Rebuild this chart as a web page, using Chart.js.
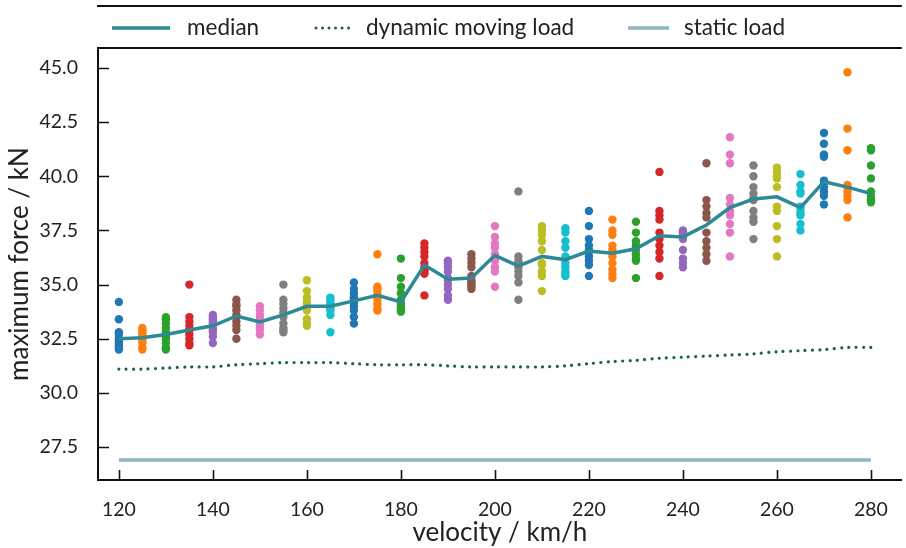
<!DOCTYPE html>
<html>
<head>
<meta charset="utf-8">
<script src="https://cdn.jsdelivr.net/npm/chart.js@4.4.1/dist/chart.umd.min.js"></script>
<style>
  html, body { margin: 0; padding: 0; background: #fff; }
  #wrap { width: 906px; height: 548px; }
</style>
</head>
<body>
<div id="wrap"><canvas id="chart" width="906" height="548"></canvas></div>
<script>
// velocities (km/h) where the runs were made
const velocity = [120, 125, 130, 135, 140, 145, 150, 155, 160, 165, 170, 175, 180, 185, 190, 195, 200,
                  205, 210, 215, 220, 225, 230, 235, 240, 245, 250, 255, 260, 265, 270, 275, 280];

// maximum force of each run (kN), one list per velocity
const samples = [
  [34.2, 33.4, 32.8, 32.7, 32.5, 32.4, 32.3, 32.2, 32.1, 32.0],
  [33.0, 32.9, 32.8, 32.7, 32.6, 32.5, 32.4, 32.3, 32.1, 32.0],
  [33.5, 33.4, 33.2, 33.0, 32.8, 32.6, 32.5, 32.3, 32.1, 32.0],
  [35.0, 33.5, 33.3, 33.1, 32.9, 32.9, 32.7, 32.5, 32.3, 32.2],
  [33.6, 33.5, 33.4, 33.3, 33.2, 33.0, 32.9, 32.8, 32.6, 32.3],
  [34.3, 34.1, 34.0, 33.8, 33.6, 33.5, 33.3, 33.1, 32.9, 32.5],
  [34.0, 33.8, 33.6, 33.5, 33.3, 33.25, 33.1, 33.0, 32.9, 32.7],
  [35.0, 34.3, 34.1, 33.9, 33.7, 33.5, 33.2, 33.0, 32.9, 32.8],
  [35.2, 34.7, 34.4, 34.2, 34.1, 33.9, 33.8, 33.4, 33.2, 33.1],
  [34.4, 34.3, 34.2, 34.1, 34.0, 34.0, 33.9, 33.8, 33.6, 32.8],
  [35.1, 34.8, 34.6, 34.4, 34.3, 34.2, 34.0, 33.8, 33.5, 33.2],
  [36.4, 34.9, 34.8, 34.7, 34.5, 34.5, 34.3, 34.1, 33.9, 33.8],
  [36.2, 35.3, 34.9, 34.6, 34.3, 34.1, 34.0, 33.9, 33.8, 33.75],
  [36.9, 36.7, 36.5, 36.3, 36.0, 35.8, 35.7, 35.6, 35.5, 34.5],
  [36.1, 36.0, 35.8, 35.6, 35.3, 35.2, 35.0, 34.8, 34.5, 34.3],
  [36.4, 36.2, 36.0, 35.8, 35.4, 35.2, 35.1, 35.0, 34.9, 34.8],
  [37.7, 37.2, 36.9, 36.7, 36.4, 36.3, 36.1, 35.8, 35.6, 34.9],
  [39.3, 36.3, 36.1, 36.0, 35.9, 35.8, 35.6, 35.4, 35.1, 34.3],
  [37.7, 37.5, 37.3, 37.0, 36.6, 36.0, 35.9, 35.6, 35.4, 34.7],
  [37.6, 37.4, 37.0, 36.7, 36.3, 36.0, 35.8, 35.6, 35.5, 35.4],
  [38.4, 37.7, 37.1, 36.8, 36.6, 36.5, 36.3, 36.1, 35.9, 35.4],
  [38.0, 37.5, 37.3, 36.8, 36.6, 36.3, 36.0, 35.7, 35.5, 35.3],
  [37.9, 37.4, 37.0, 36.8, 36.7, 36.6, 36.4, 36.2, 36.1, 35.3],
  [40.2, 38.4, 38.2, 38.0, 37.4, 37.1, 36.8, 36.5, 36.2, 35.4],
  [37.5, 37.4, 37.3, 37.2, 37.2, 37.1, 36.6, 36.2, 36.0, 35.8],
  [40.6, 38.9, 38.6, 38.3, 38.1, 37.4, 37.0, 36.7, 36.4, 36.1],
  [41.8, 41.0, 40.6, 39.0, 38.7, 38.4, 38.2, 37.8, 37.4, 36.3],
  [40.5, 40.0, 39.5, 39.2, 39.0, 38.9, 38.4, 38.1, 37.9, 37.1],
  [40.4, 40.2, 40.0, 39.9, 39.5, 38.6, 38.4, 37.7, 37.1, 36.3],
  [40.1, 39.6, 39.3, 39.2, 38.6, 38.5, 38.3, 38.2, 37.8, 37.5],
  [42.0, 41.5, 41.0, 40.9, 39.8, 39.7, 39.5, 39.3, 39.1, 38.7],
  [44.8, 42.2, 41.2, 39.6, 39.5, 39.5, 39.3, 39.1, 38.9, 38.1],
  [41.3, 41.2, 40.5, 39.9, 39.3, 39.1, 39.0, 38.9, 38.9, 38.8]
];

const median = [32.5, 32.55, 32.7, 32.9, 33.1, 33.55, 33.28, 33.6, 34.0, 34.0, 34.25, 34.5, 34.2, 35.9,
                35.25, 35.3, 36.35, 35.85, 36.3, 36.15, 36.55, 36.45, 36.65, 37.25, 37.2, 37.75,
                38.55, 38.95, 39.05, 38.55, 39.75, 39.5, 39.2];

const dynamicLoad = [31.1, 31.1, 31.15, 31.2, 31.2, 31.3, 31.35, 31.4, 31.4, 31.4, 31.35, 31.3, 31.3,
                     31.3, 31.25, 31.2, 31.2, 31.2, 31.2, 31.25, 31.35, 31.45, 31.5, 31.6, 31.65,
                     31.7, 31.75, 31.8, 31.9, 31.95, 32.0, 32.1, 32.1];

const staticLoad = 26.9;
const staticVelocity = [120, 280];

const xTicks = [120, 140, 160, 180, 200, 220, 240, 260, 280];
const yTicks = [27.5, 30.0, 32.5, 35.0, 37.5, 40.0, 42.5, 45.0];

const palette = ['#1f77b4', '#ff7f0e', '#2ca02c', '#d62728', '#9467bd',
                 '#8c564b', '#e377c2', '#7f7f7f', '#bcbd22', '#17becf'];

const FONT = 'Lato, "Open Sans", sans-serif';
const medianColor = '#2b8a96';
const dynamicColor = '#17615f';
const staticColor = '#8fb5c2';

// scatter columns
const datasets = samples.map((vals, i) => ({
  type: 'scatter',
  label: 'v' + velocity[i],
  data: vals.map(f => ({ x: velocity[i], y: f })),
  backgroundColor: palette[i % palette.length],
  borderWidth: 0,
  pointRadius: 4.2,
  order: 2
}));

datasets.push({
  type: 'line',
  label: 'median',
  data: velocity.map((v, i) => ({ x: v, y: median[i] })),
  borderColor: medianColor,
  borderWidth: 3.5,
  pointRadius: 0,
  tension: 0,
  order: 0
});
datasets.push({
  type: 'line',
  label: 'dynamic moving load',
  data: velocity.map((v, i) => ({ x: v, y: dynamicLoad[i] })),
  borderColor: dynamicColor,
  borderWidth: 3.2,
  borderDash: [0.01, 7.3],
  borderCapStyle: 'round',
  pointRadius: 0,
  tension: 0.3,
  order: 1
});
datasets.push({
  type: 'line',
  label: 'static load',
  data: staticVelocity.map(v => ({ x: v, y: staticLoad })),
  borderColor: staticColor,
  borderWidth: 3.5,
  pointRadius: 0,
  order: 1
});

// inward ticks, top frame line and the legend strip
const decorations = {
  id: 'decorations',
  afterDraw(chart) {
    const { ctx, chartArea: a, scales: { x, y } } = chart;
    ctx.save();
    ctx.strokeStyle = '#111';
    ctx.lineWidth = 1.6;
    ctx.beginPath();
    xTicks.forEach(v => {
      const px = Math.round(x.getPixelForValue(v)) + 0.5;
      ctx.moveTo(px, a.bottom);
      ctx.lineTo(px, a.bottom - 10);
    });
    yTicks.forEach(v => {
      const py = Math.round(y.getPixelForValue(v)) + 0.5;
      ctx.moveTo(a.left, py);
      ctx.lineTo(a.left + 11, py);
    });
    ctx.stroke();

    ctx.lineWidth = 2;
    ctx.beginPath();
    ctx.moveTo(a.left - 1, a.top);
    ctx.lineTo(a.right, a.top);
    ctx.moveTo(a.left - 1, 6);
    ctx.lineTo(a.right, 6);
    ctx.stroke();

    // legend
    const ly = 28;
    const items = [
      { x0: 112, x1: 170, tx: 187, text: 'median', color: medianColor, dash: [], w: 3.5 },
      { x0: 316, x1: 354, tx: 366, text: 'dynamic moving load', color: dynamicColor, dash: [0.01, 6.5], w: 3 },
      { x0: 628, x1: 669, tx: 684, text: 'static load', color: staticColor, dash: [], w: 3.5 }
    ];
    ctx.font = '22.5px ' + FONT;
    ctx.textBaseline = 'middle';
    ctx.fillStyle = '#222';
    items.forEach(it => {
      ctx.beginPath();
      ctx.strokeStyle = it.color;
      ctx.lineWidth = it.w;
      ctx.setLineDash(it.dash);
      ctx.lineCap = it.dash.length ? 'round' : 'butt';
      ctx.moveTo(it.x0, ly);
      ctx.lineTo(it.x1, ly);
      ctx.stroke();
      ctx.setLineDash([]);
      ctx.fillText(it.text, it.tx, ly);
    });
    ctx.restore();
  }
};

new Chart(document.getElementById('chart'), {
  type: 'scatter',
  data: { datasets },
  options: {
    responsive: false,
    animation: false,
    layout: { padding: { top: 48, right: 0, bottom: 0, left: 0 } },
    plugins: { legend: { display: false }, tooltip: { enabled: false } },
    scales: {
      x: {
        type: 'linear',
        min: 115.56,
        max: 286.56,
        afterBuildTicks: s => { s.ticks = xTicks.map(v => ({ value: v })); },
        afterFit: s => { s.height = 68; },
        grid: { display: false },
        border: { display: true, color: '#111', width: 2 },
        ticks: { padding: 10, color: '#222', font: { family: FONT, size: 19.5 }, callback: v => String(v) },
        title: { display: true, text: 'velocity / km/h', color: '#222',
                 font: { family: FONT, size: 26 }, padding: { top: 0, bottom: 0 } }
      },
      y: {
        type: 'linear',
        min: 25.98,
        max: 45.92,
        afterBuildTicks: s => { s.ticks = yTicks.map(v => ({ value: v })); },
        afterFit: s => { s.width = 98; },
        grid: { display: false },
        border: { display: true, color: '#111', width: 2 },
        ticks: { padding: 12, color: '#222', font: { family: FONT, size: 19.5 }, callback: v => v.toFixed(1) },
        title: { display: true, text: 'maximum force / kN', color: '#222',
                 font: { family: FONT, size: 26 }, padding: { top: 4, bottom: 0 } }
      }
    }
  },
  plugins: [decorations]
});
</script>
</body>
</html>
